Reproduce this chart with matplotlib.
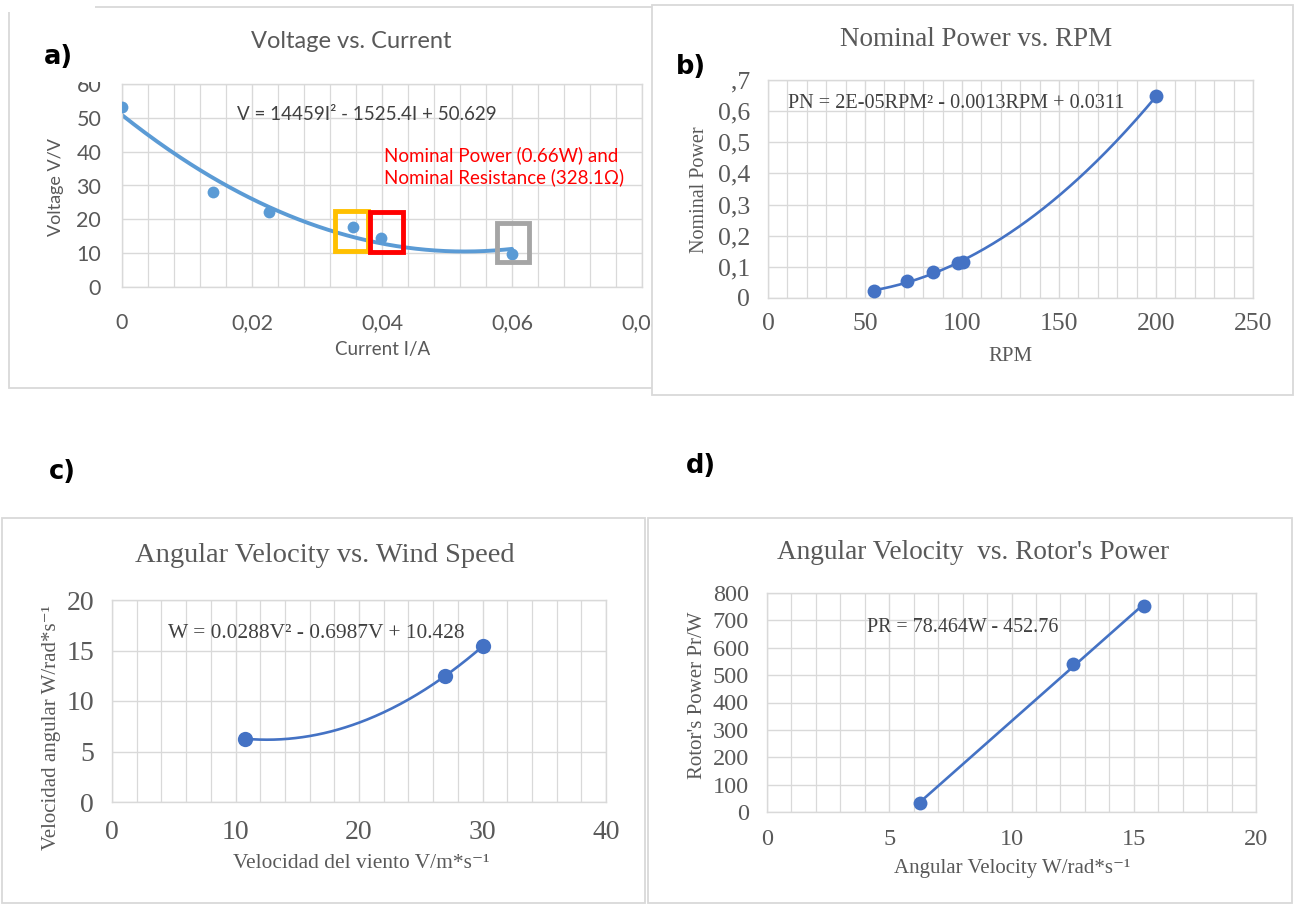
import numpy as np
import matplotlib
matplotlib.use("Agg")
import matplotlib.pyplot as plt
from matplotlib.patches import Rectangle
from matplotlib.ticker import MultipleLocator, FuncFormatter

W, H = 1295, 905

# a) Voltage vs. Current
current = [0.0, 0.014, 0.0226, 0.0356, 0.0398, 0.060]
voltage = [53.2, 28.1, 22.1, 17.8, 14.6, 9.9]
eq_a = "V = 14459I² - 1525.4I + 50.629"
note_a = "Nominal Power (0.66W) and\nNominal Resistance (328.1Ω)"

# b) Nominal Power vs. RPM
rpm = [54.6, 71.6, 84.8, 98.1, 100.3, 200.1]
nominal_power = [0.021, 0.054, 0.084, 0.112, 0.116, 0.648]
eq_b = "PN = 2E-05RPM² - 0.0013RPM + 0.0311"

# c) Angular Velocity vs. Wind Speed
wind_speed = [10.8, 27.0, 30.0]
angular_velocity = [6.26, 12.5, 15.4]
eq_c = "W = 0.0288V² - 0.6987V + 10.428"

# d) Angular Velocity vs. Rotor's Power
rotor_power = [33, 540, 751]
eq_d = "PR = 78.464W - 452.76"

SANS = ["Lato", "DejaVu Sans"]
SERIF = ["Liberation Serif", "DejaVu Serif"]
BOLD = ["DejaVu Sans"]
GRID = "#D9D9D9"
TXT = "#595959"
EQ = "#404040"
BLUE_A = "#5B9BD5"
BLUE = "#4472C4"

fig = plt.figure(figsize=(W / 100, H / 100), dpi=100)


def frame(l, t, r, b, z):
    fig.patches.append(Rectangle((l / W, 1 - b / H), (r - l) / W, (b - t) / H,
                                 transform=fig.transFigure, facecolor="white",
                                 edgecolor=GRID, lw=1.3, zorder=z))


def white(l, t, r, b, z=10):
    fig.patches.append(Rectangle((l / W, 1 - b / H), (r - l) / W, (b - t) / H,
                                 transform=fig.transFigure, facecolor="white",
                                 edgecolor="none", zorder=z))


def axes_px(l, t, r, b, z):
    ax = fig.add_axes([l / W, 1 - b / H, (r - l) / W, (b - t) / H])
    ax.set_zorder(z)
    ax.patch.set_alpha(0)
    return ax


def ptxt(x, y, s, **kw):
    kw.setdefault("ha", "center")
    kw.setdefault("va", "center")
    kw.setdefault("zorder", 6)
    return fig.text(x / W, 1 - y / H, s, **kw)


def comma(v, p):
    return ("%g" % round(v, 6)).replace(".", ",")


def style(ax, xmaj, xmin, ymaj, family, size, xpad, ypad):
    ax.xaxis.set_major_locator(MultipleLocator(xmaj))
    ax.xaxis.set_minor_locator(MultipleLocator(xmin))
    ax.yaxis.set_major_locator(MultipleLocator(ymaj))
    ax.grid(which="major", color=GRID, lw=1.0)
    ax.grid(which="minor", axis="x", color=GRID, lw=0.9)
    ax.set_axisbelow(True)
    for s in ax.spines.values():
        s.set_color(GRID)
        s.set_linewidth(1.0)
    ax.tick_params(which="both", length=0)
    ax.tick_params(axis="x", pad=xpad, labelcolor=TXT, labelsize=size)
    ax.tick_params(axis="y", pad=ypad, labelcolor=TXT, labelsize=size)
    for lab in ax.get_xticklabels() + ax.get_yticklabels():
        lab.set_family(family)


def trend(ax, x, y, deg, color, lw):
    coef = np.polyfit(x, y, deg)
    xs = np.linspace(min(x), max(x), 200)
    ax.plot(xs, np.polyval(coef, xs), color=color, lw=lw, zorder=2,
            solid_capstyle="round")


# ---------------- a) ----------------
frame(9, 7, 700, 388, 0)
axa = axes_px(122, 84, 642, 287, 1)
trend(axa, current, voltage, 2, BLUE_A, 2.8)
axa.plot(current, voltage, "o", color=BLUE_A, ms=8.5, mew=0, zorder=3)
axa.set_xlim(0, 0.08)
axa.set_ylim(0, 60)
axa.xaxis.set_major_formatter(FuncFormatter(comma))
style(axa, 0.02, 0.004, 10, SANS, 15.5, 19, 15)
# highlighted points (orange, red, grey boxes)
for (x0, x1, y0, y1, col) in [(0.0327, 0.0378, 10.7, 22.5, "#FFC000"),
                              (0.0381, 0.0432, 10.2, 22.1, "#FF0000"),
                              (0.0577, 0.0626, 7.4, 19.0, "#A5A5A5")]:
    axa.add_patch(Rectangle((x0, y0), x1 - x0, y1 - y0, fill=False,
                            edgecolor=col, lw=3.5, zorder=4, clip_on=False))
ptxt(351, 42, "Voltage vs. Current", family=SANS, fontsize=17, color=TXT)
ptxt(58, 57, "a)", family=BOLD, fontsize=18.5, fontweight="bold", color="black")
ptxt(367, 115, eq_a, family=SANS, fontsize=13.5, color=EQ)
ptxt(384, 166, note_a, family=SANS, fontsize=13.5, color="#FF0000", ha="left",
     linespacing=1.25)
ptxt(56, 187, "Voltage V/V", family=SANS, fontsize=13, color=TXT, rotation=90)
ptxt(383, 349, "Current I/A", family=SANS, fontsize=13.5, color=TXT)
white(0, 0, 95, 12)
white(78, 68, 112, 82)

# ---------------- b) ----------------
frame(652, 5, 1293, 395, 2)
axb = axes_px(768, 80, 1253, 298, 3)
trend(axb, rpm, nominal_power, 2, BLUE, 1.9)
axb.plot(rpm, nominal_power, "o", color=BLUE, ms=10, mew=0, zorder=3)
axb.set_xlim(0, 250)
axb.set_ylim(0, 0.7)
axb.yaxis.set_major_formatter(FuncFormatter(comma))
style(axb, 50, 10, 0.1, SERIF, 18.5, 11, 13)
ptxt(976, 39, "Nominal Power vs. RPM", family=SERIF, fontsize=19.5, color=TXT)
ptxt(691, 67, "b)", family=BOLD, fontsize=18.5, fontweight="bold", color="black")
ptxt(956, 103, eq_b, family=SERIF, fontsize=14.6, color=EQ)
ptxt(699, 190, "Nominal Power", family=SERIF, fontsize=14.5, color=TXT, rotation=90)
ptxt(1010, 356, "RPM", family=SERIF, fontsize=15, color=TXT)
white(708, 66, 732, 94)

# ---------------- c) ----------------
frame(2, 518, 645, 903, 0)
axc = axes_px(112, 600, 606, 802, 1)
trend(axc, wind_speed, angular_velocity, 2, BLUE, 1.9)
axc.plot(wind_speed, angular_velocity, "o", color=BLUE, ms=11, mew=0, zorder=3)
axc.set_xlim(0, 40)
axc.set_ylim(0, 20)
style(axc, 10, 2, 5, SERIF, 20, 13, 13)
ptxt(325, 555, "Angular Velocity vs. Wind Speed", family=SERIF, fontsize=20.5, color=TXT)
ptxt(62, 472, "c)", family=BOLD, fontsize=18.5, fontweight="bold", color="black")
ptxt(316, 633, eq_c, family=SERIF, fontsize=15.4, color=EQ)
ptxt(52, 728, "Velocidad angular W/rad*s⁻¹", family=SERIF, fontsize=15, color=TXT,
     rotation=90)
ptxt(361, 863, "Velocidad del viento V/m*s⁻¹", family=SERIF, fontsize=15.4, color=TXT)

# ---------------- d) ----------------
frame(648, 518, 1292, 903, 0)
axd = axes_px(767, 593, 1256, 812, 1)
trend(axd, angular_velocity, rotor_power, 1, BLUE, 1.9)
axd.plot(angular_velocity, rotor_power, "o", color=BLUE, ms=10, mew=0, zorder=3)
axd.set_xlim(0, 20)
axd.set_ylim(0, 800)
style(axd, 5, 1, 100, SERIF, 17.5, 12, 13)
ptxt(973, 552, "Angular Velocity  vs. Rotor's Power", family=SERIF, fontsize=19.6,
     color=TXT)
ptxt(701, 466, "d)", family=BOLD, fontsize=18.5, fontweight="bold", color="black")
ptxt(963, 627, eq_d, family=SERIF, fontsize=14.4, color=EQ)
ptxt(697, 695, "Rotor's Power Pr/W", family=SERIF, fontsize=15, color=TXT, rotation=90)
ptxt(1012, 868, "Angular Velocity W/rad*s⁻¹", family=SERIF, fontsize=15, color=TXT)

fig.savefig("out.png", dpi=100, facecolor="white")
